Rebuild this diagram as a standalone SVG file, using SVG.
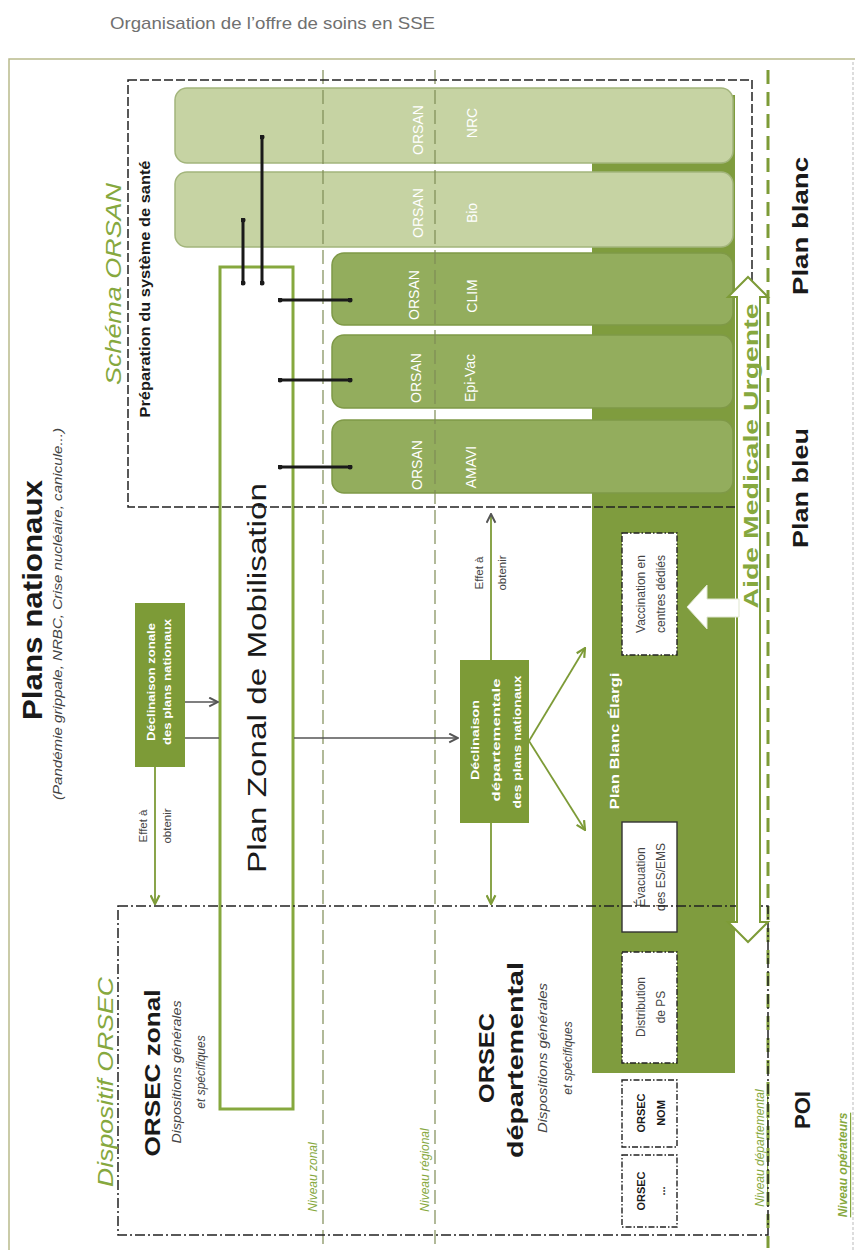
<svg xmlns="http://www.w3.org/2000/svg" width="860" height="1250" viewBox="0 0 860 1250">
<defs>
<style>
text{font-family:"Liberation Sans",Arial,sans-serif;}
.c{text-anchor:middle;dominant-baseline:central;}
.w{fill:#ffffff;}
.gt{fill:#86a83e;}
.k{fill:#1a1a1a;}
.dk{fill:#444444;}
.lvl{fill:none;stroke:#7e8c55;stroke-width:1.2;stroke-dasharray:14 6;}
.lb{fill:#c6d3a3;stroke:#a3b57c;stroke-width:1.5;}
.db{fill:#93ad5d;stroke:#7f9947;stroke-width:1.5;}
.dec{fill:#7d9b37;}
.ib{fill:#ffffff;stroke:#222;stroke-width:1.4;stroke-dasharray:6 2 1.5 2;}
.blk{stroke:#1a1a1a;stroke-width:3;stroke-linecap:round;}
.gry{stroke:#555;stroke-width:1.4;fill:none;}
.grn{stroke:#7d9b37;stroke-width:1.8;fill:none;}
</style>
<marker id="mg" viewBox="0 0 10 10" refX="9" refY="5" markerWidth="11" markerHeight="11" markerUnits="userSpaceOnUse" orient="auto">
<path d="M1,1 L9,5 L1,9" fill="none" stroke="#7d9b37" stroke-width="2"/>
</marker>
<marker id="mk" viewBox="0 0 10 10" refX="9" refY="5" markerWidth="11" markerHeight="11" markerUnits="userSpaceOnUse" orient="auto">
<path d="M1,1 L9,5 L1,9" fill="none" stroke="#555" stroke-width="1.8"/>
</marker>
<marker id="dot" viewBox="0 0 6 6" refX="3" refY="3" markerWidth="5" markerHeight="5" markerUnits="userSpaceOnUse">
<circle cx="3" cy="3" r="3" fill="#1a1a1a"/>
</marker>
</defs>

<rect x="0" y="0" width="860" height="1250" fill="#ffffff"/>

<g id="title">
<text x="110" y="29" font-size="17" fill="#707070" textLength="325" lengthAdjust="spacingAndGlyphs">Organisation de l’offre de soins en SSE</text>
</g>

<g id="frame">
<path d="M9,1250 V59 H855" fill="none" stroke="#b9bb8c" stroke-width="1.5"/>
<line x1="853" y1="62" x2="853" y2="1250" stroke="#bbbbbb" stroke-width="1" stroke-dasharray="3 2"/>
</g>

<g id="plan-blanc-elargi">
<rect x="592" y="95" width="143" height="978" fill="#7f9c3e"/>
<text class="c w" transform="translate(614 741) rotate(-90)" font-size="13" font-weight="bold" textLength="137" lengthAdjust="spacingAndGlyphs">Plan Blanc Élargi</text>
</g>

<g id="orsan-nrc">
<rect class="lb" x="175" y="88" width="558" height="75" rx="12"/>
<text class="c w" transform="translate(418 130) rotate(-90)" font-size="14">ORSAN</text>
<text class="c w" transform="translate(472 123) rotate(-90)" font-size="14">NRC</text>
</g>
<g id="orsan-bio">
<rect class="lb" x="175" y="172" width="558" height="75" rx="12"/>
<text class="c w" transform="translate(418 213) rotate(-90)" font-size="14">ORSAN</text>
<text class="c w" transform="translate(472 213) rotate(-90)" font-size="14">Bio</text>
</g>
<g id="orsan-clim">
<rect class="db" x="332" y="253" width="401" height="72" rx="12"/>
<text class="c w" transform="translate(414 295) rotate(-90)" font-size="14">ORSAN</text>
<text class="c w" transform="translate(472 296) rotate(-90)" font-size="14">CLIM</text>
</g>
<g id="orsan-epivac">
<rect class="db" x="332" y="335" width="401" height="73" rx="12"/>
<text class="c w" transform="translate(416 378) rotate(-90)" font-size="14">ORSAN</text>
<text class="c w" transform="translate(470 378) rotate(-90)" font-size="14">Epi-Vac</text>
</g>
<g id="orsan-amavi">
<rect class="db" x="332" y="420" width="401" height="73" rx="12"/>
<text class="c w" transform="translate(417 465) rotate(-90)" font-size="14">ORSAN</text>
<text class="c w" transform="translate(471 467) rotate(-90)" font-size="14">AMAVI</text>
</g>

<g id="levels">
<line class="lvl" x1="323" y1="70" x2="323" y2="1248"/>
<line class="lvl" x1="435" y1="70" x2="435" y2="1248"/>
<line x1="768" y1="70" x2="768" y2="1248" stroke="#7d9b37" stroke-width="3" stroke-dasharray="14 8"/>
<text class="c gt" transform="translate(313 1177) rotate(-90)" font-size="12" font-style="italic">Niveau zonal</text>
<text class="c gt" transform="translate(425 1170) rotate(-90)" font-size="12" font-style="italic">Niveau régional</text>
<text class="c gt" transform="translate(760 1148) rotate(-90)" font-size="12" font-style="italic" text-decoration="underline">Niveau départemental</text>
<text class="c gt" transform="translate(843 1165) rotate(-90)" font-size="12" font-style="italic" font-weight="bold" text-decoration="underline">Niveau opérateurs</text>
</g>

<g id="plans-nationaux">
<text class="c k" transform="translate(32 600) rotate(-90)" font-size="28" font-weight="bold" textLength="240" lengthAdjust="spacingAndGlyphs">Plans nationaux</text>
<text class="c dk" transform="translate(57 614) rotate(-90)" font-size="13" font-style="italic" textLength="372" lengthAdjust="spacingAndGlyphs">(Pandémie grippale, NRBC, Crise nucléaire, canicule...)</text>
</g>

<g id="plan-zonal-mobilisation">
<rect x="220" y="267" width="73" height="842" fill="#ffffff" stroke="#86a83e" stroke-width="3"/>
<text class="c k" transform="translate(257 678) rotate(-90)" font-size="26" textLength="390" lengthAdjust="spacingAndGlyphs">Plan Zonal de Mobilisation</text>
</g>

<g id="declinaison-zonale">
<rect class="dec" x="135" y="603" width="50" height="164"/>
<text class="c w" transform="translate(151 682) rotate(-90)" font-size="10.5" font-weight="bold" textLength="118" lengthAdjust="spacingAndGlyphs">Déclinaison zonale</text>
<text class="c w" transform="translate(167 682) rotate(-90)" font-size="10.5" font-weight="bold" textLength="126" lengthAdjust="spacingAndGlyphs">des plans nationaux</text>
</g>

<g id="declinaison-departementale">
<rect class="dec" x="460" y="660" width="69" height="163"/>
<text class="c w" transform="translate(475 740) rotate(-90)" font-size="10.5" font-weight="bold" textLength="80" lengthAdjust="spacingAndGlyphs">Déclinaison</text>
<text class="c w" transform="translate(496 740) rotate(-90)" font-size="10.5" font-weight="bold" textLength="123" lengthAdjust="spacingAndGlyphs">départementale</text>
<text class="c w" transform="translate(517 742) rotate(-90)" font-size="10.5" font-weight="bold" textLength="133" lengthAdjust="spacingAndGlyphs">des plans nationaux</text>
</g>

<g id="vaccination">
<rect class="ib" x="622" y="533" width="55" height="122"/>
<text class="c dk" transform="translate(641 594) rotate(-90)" font-size="12">Vaccination en</text>
<text class="c dk" transform="translate(661 594) rotate(-90)" font-size="12">centres dédiés</text>
</g>
<g id="evacuation">
<rect x="622" y="822" width="55" height="110" fill="#ffffff" stroke="#333" stroke-width="1.4"/>
<text class="c dk" transform="translate(641 877) rotate(-90)" font-size="12">Évacuation</text>
<text class="c dk" transform="translate(661 877) rotate(-90)" font-size="12">des ES/EMS</text>
</g>
<g id="distribution">
<rect class="ib" x="622" y="952" width="55" height="111"/>
<text class="c dk" transform="translate(641 1007) rotate(-90)" font-size="12">Distribution</text>
<text class="c dk" transform="translate(661 1007) rotate(-90)" font-size="12">de PS</text>
</g>
<g id="orsec-nom">
<rect class="ib" x="622" y="1080" width="55" height="67"/>
<text class="c k" transform="translate(641 1113) rotate(-90)" font-size="11" font-weight="bold">ORSEC</text>
<text class="c k" transform="translate(661 1113) rotate(-90)" font-size="11" font-weight="bold">NOM</text>
</g>
<g id="orsec-autres">
<rect class="ib" x="622" y="1155" width="55" height="72"/>
<text class="c k" transform="translate(641 1191) rotate(-90)" font-size="11" font-weight="bold">ORSEC</text>
<text class="c k" transform="translate(661 1191) rotate(-90)" font-size="11" font-weight="bold">...</text>
</g>

<g id="schema-orsan">
<rect x="128" y="80" width="624" height="427" fill="none" stroke="#222" stroke-width="1.5" stroke-dasharray="9 3"/>
<text class="c gt" transform="translate(113 284) rotate(-90)" font-size="22" font-style="italic" textLength="202" lengthAdjust="spacingAndGlyphs">Schéma ORSAN</text>
<text class="c k" transform="translate(145 289) rotate(-90)" font-size="14" font-weight="bold" textLength="257" lengthAdjust="spacingAndGlyphs">Préparation du système de santé</text>
</g>

<g id="dispositif-orsec">
<rect x="118" y="906" width="650" height="329" fill="none" stroke="#222" stroke-width="1.5" stroke-dasharray="10 3 2 3"/>
<text class="c gt" transform="translate(105 1082) rotate(-90)" font-size="22" font-style="italic" textLength="210" lengthAdjust="spacingAndGlyphs">Dispositif ORSEC</text>
<text class="c k" transform="translate(152 1073) rotate(-90)" font-size="22" font-weight="bold" textLength="167" lengthAdjust="spacingAndGlyphs">ORSEC zonal</text>
<text class="c dk" transform="translate(177 1072) rotate(-90)" font-size="12" font-style="italic" textLength="143" lengthAdjust="spacingAndGlyphs">Dispositions générales</text>
<text class="c dk" transform="translate(201 1072) rotate(-90)" font-size="12" font-style="italic">et spécifiques</text>
<text class="c k" transform="translate(486 1058) rotate(-90)" font-size="22" font-weight="bold" textLength="90" lengthAdjust="spacingAndGlyphs">ORSEC</text>
<text class="c k" transform="translate(515 1060) rotate(-90)" font-size="22" font-weight="bold" textLength="196" lengthAdjust="spacingAndGlyphs">départemental</text>
<text class="c dk" transform="translate(543 1058) rotate(-90)" font-size="12" font-style="italic" textLength="150" lengthAdjust="spacingAndGlyphs">Dispositions générales</text>
<text class="c dk" transform="translate(568 1058) rotate(-90)" font-size="12" font-style="italic">et spécifiques</text>
</g>

<g id="aide-medicale-urgente">
<polygon points="748,277 768,297 760,297 760,922 768,922 748,942 728,922 737,922 737,297 728,297" fill="#ffffff" stroke="#7d9b37" stroke-width="2"/>
<polygon points="687,607 707,585 707,599 739,599 739,617 707,617 707,629" fill="#ffffff" stroke="#dfe6cf" stroke-width="1"/>
<text class="c gt" transform="translate(750 456) rotate(-90)" font-size="21" font-weight="bold" textLength="305" lengthAdjust="spacingAndGlyphs">Aide Medicale Urgente</text>
</g>

<g id="plans-hospitaliers">
<text class="c k" transform="translate(800 226) rotate(-90)" font-size="22" font-weight="bold" textLength="138" lengthAdjust="spacingAndGlyphs">Plan blanc</text>
<text class="c k" transform="translate(800 488) rotate(-90)" font-size="22" font-weight="bold" textLength="120" lengthAdjust="spacingAndGlyphs">Plan bleu</text>
<text class="c k" transform="translate(802 1110) rotate(-90)" font-size="22" font-weight="bold">POI</text>
</g>

<g id="connectors">
<line class="blk" x1="243" y1="220" x2="243" y2="283" marker-start="url(#dot)" marker-end="url(#dot)"/>
<line class="blk" x1="262" y1="137" x2="262" y2="283" marker-start="url(#dot)" marker-end="url(#dot)"/>
<line class="blk" x1="280" y1="300" x2="350" y2="300" marker-start="url(#dot)" marker-end="url(#dot)"/>
<line class="blk" x1="280" y1="380" x2="350" y2="380" marker-start="url(#dot)" marker-end="url(#dot)"/>
<line class="blk" x1="280" y1="467" x2="350" y2="467" marker-start="url(#dot)" marker-end="url(#dot)"/>
<line class="gry" x1="185" y1="702" x2="218" y2="702" marker-end="url(#mk)"/>
<line class="gry" x1="185" y1="738" x2="219" y2="738"/>
<line class="gry" x1="294" y1="738" x2="458" y2="738" marker-end="url(#mk)"/>
<line class="grn" x1="155" y1="767" x2="155" y2="904" marker-end="url(#mg)"/>
<line class="grn" x1="491" y1="660" x2="491" y2="514" marker-end="url(#mk)"/>
<line class="grn" x1="491" y1="823" x2="491" y2="904" marker-end="url(#mg)"/>
<line class="grn" x1="529" y1="741" x2="585" y2="648" marker-end="url(#mg)"/>
<line class="grn" x1="529" y1="741" x2="585" y2="830" marker-end="url(#mg)"/>
<text class="c dk" transform="translate(143 826) rotate(-90)" font-size="11.5">Effet à</text>
<text class="c dk" transform="translate(167 826) rotate(-90)" font-size="11.5">obtenir</text>
<text class="c dk" transform="translate(479 573) rotate(-90)" font-size="11.5">Effet à</text>
<text class="c dk" transform="translate(502 573) rotate(-90)" font-size="11.5">obtenir</text>
</g>
</svg>
